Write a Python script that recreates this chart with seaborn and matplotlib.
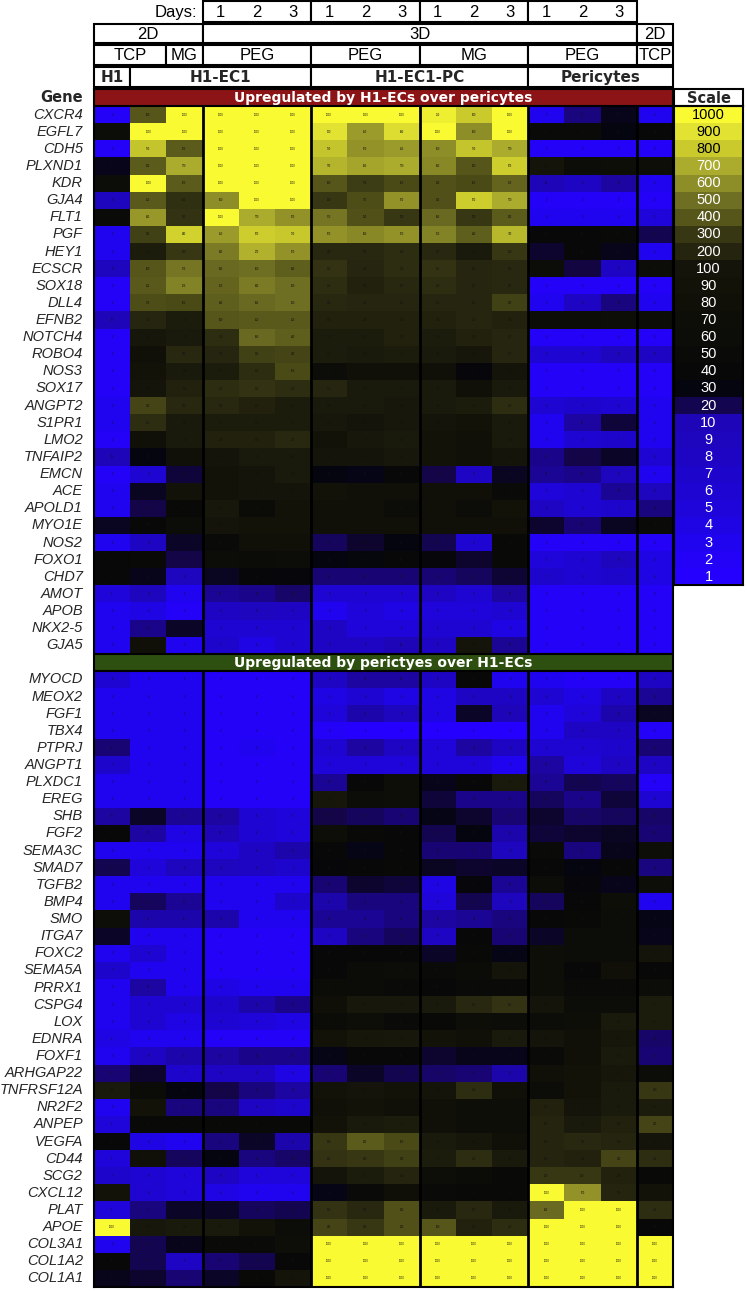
import numpy as np
import matplotlib
matplotlib.use('Agg')
import matplotlib.pyplot as plt
from matplotlib.colors import LinearSegmentedColormap
from matplotlib.patches import Rectangle
import seaborn as sns

# ---- data -------------------------------------------------------------
# column order: H1 2D TCP | H1-EC1 2D TCP, 2D MG, 3D PEG d1-3 |
# H1-EC1-PC 3D PEG d1-3, 3D MG d1-3 | Pericytes 3D PEG d1-3, 2D TCP
up_genes = ['CXCR4', 'EGFL7', 'CDH5', 'PLXND1', 'KDR', 'GJA4', 'FLT1', 'PGF',
            'HEY1', 'ECSCR', 'SOX18', 'DLL4', 'EFNB2', 'NOTCH4', 'ROBO4', 'NOS3',
            'SOX17', 'ANGPT2', 'S1PR1', 'LMO2', 'TNFAIP2', 'EMCN', 'ACE', 'APOLD1',
            'MYO1E', 'NOS2', 'FOXO1', 'CHD7', 'AMOT', 'APOB', 'NKX2-5', 'GJA5']
up_values = [
    [2, 400, 1000, 1000, 1000, 1000, 1000, 1000, 1000, 950, 800, 1000, 3, 15, 28, 3],
    [60, 1000, 1000, 1000, 1000, 1000, 900, 650, 880, 1000, 600, 1000, 50, 50, 30, 40],
    [2, 780, 420, 1000, 1000, 1000, 780, 620, 650, 600, 780, 700, 2, 2, 2, 2],
    [28, 430, 700, 1000, 1000, 1000, 730, 680, 700, 580, 400, 820, 100, 60, 70, 70],
    [60, 1000, 420, 1000, 1000, 1000, 400, 320, 360, 380, 360, 460, 10, 8, 12, 3],
    [9, 410, 260, 600, 1000, 1000, 300, 370, 620, 380, 820, 700, 2, 2, 2, 2],
    [50, 640, 280, 1000, 700, 620, 520, 380, 300, 480, 300, 430, 3, 3, 3, 5],
    [3, 330, 840, 650, 820, 790, 620, 580, 620, 560, 440, 740, 40, 40, 45, 20],
    [3, 150, 300, 540, 720, 620, 230, 230, 250, 230, 130, 300, 25, 40, 28, 3],
    [9, 400, 520, 480, 500, 440, 280, 210, 250, 280, 210, 230, 60, 22, 8, 60],
    [2, 410, 560, 460, 540, 500, 250, 180, 230, 250, 210, 230, 2, 2, 2, 2],
    [2, 370, 360, 440, 480, 500, 230, 210, 210, 210, 210, 330, 3, 8, 15, 3],
    [10, 210, 150, 400, 410, 410, 180, 180, 180, 180, 210, 180, 60, 60, 70, 60],
    [2, 110, 130, 250, 480, 440, 150, 150, 180, 150, 180, 210, 2, 2, 2, 2],
    [2, 80, 230, 210, 330, 340, 150, 130, 150, 130, 110, 210, 6, 6, 9, 8],
    [2, 90, 130, 150, 250, 360, 60, 80, 80, 80, 35, 100, 2, 2, 2, 2],
    [2, 100, 180, 250, 280, 250, 210, 130, 130, 130, 80, 130, 2, 2, 2, 2],
    [3, 340, 230, 230, 180, 150, 130, 130, 115, 130, 150, 250, 6, 7, 6, 3],
    [3, 250, 140, 150, 150, 150, 115, 100, 115, 100, 90, 130, 3, 12, 23, 3],
    [2, 80, 130, 180, 180, 230, 90, 115, 140, 90, 80, 130, 3, 6, 7, 3],
    [10, 30, 80, 100, 130, 130, 100, 100, 115, 90, 80, 100, 14, 21, 26, 6],
    [2, 6, 23, 90, 100, 130, 30, 29, 40, 21, 8, 27, 13, 14, 9, 3],
    [3, 27, 90, 90, 100, 100, 90, 80, 80, 80, 80, 50, 5, 6, 13, 9],
    [3, 21, 45, 115, 55, 90, 80, 80, 60, 80, 60, 90, 8, 6, 7, 15],
    [27, 40, 60, 100, 90, 90, 80, 80, 80, 80, 80, 80, 25, 16, 27, 50],
    [3, 8, 26, 50, 80, 80, 19, 25, 30, 20, 6, 45, 2, 2, 2, 2],
    [40, 45, 21, 60, 55, 60, 30, 32, 40, 35, 25, 45, 5, 6, 9, 4],
    [40, 28, 9, 27, 38, 35, 16, 16, 17, 16, 19, 24, 7, 6, 7, 4],
    [5, 9, 3, 13, 14, 18, 6, 6, 6, 8, 6, 12, 2, 2, 2, 2],
    [3, 4, 2, 8, 9, 8, 3, 5, 4, 5, 5, 6, 2, 2, 2, 2],
    [3, 14, 26, 6, 6, 6, 8, 5, 5, 6, 6, 4, 2, 2, 2, 2],
    [3, 80, 3, 7, 4, 6, 8, 8, 10, 8, 100, 13, 2, 2, 2, 2],
]

down_genes = ['MYOCD', 'MEOX2', 'FGF1', 'TBX4', 'PTPRJ', 'ANGPT1', 'PLXDC1', 'EREG',
              'SHB', 'FGF2', 'SEMA3C', 'SMAD7', 'TGFB2', 'BMP4', 'SMO', 'ITGA7',
              'FOXC2', 'SEMA5A', 'PRRX1', 'CSPG4', 'LOX', 'EDNRA', 'FOXF1', 'ARHGAP22',
              'TNFRSF12A', 'NR2F2', 'ANPEP', 'VEGFA', 'CD44', 'SCG2', 'CXCL12', 'PLAT',
              'APOE', 'COL3A1', 'COL1A2', 'COL1A1']
down_values = [
    [6, 3, 3, 2, 2, 2, 8, 12, 12, 8, 40, 3, 3, 2, 2, 8],
    [3, 3, 3, 2, 2, 2, 4, 6, 4, 4, 8, 8, 6, 4, 8, 13],
    [3, 3, 3, 2, 2, 2, 5, 11, 9, 4, 26, 10, 3, 5, 11, 27],
    [3, 3, 3, 2, 2, 2, 2, 1, 1, 1, 1, 1, 3, 8, 8, 2],
    [16, 3, 3, 2, 3, 2, 6, 12, 8, 5, 12, 8, 6, 6, 7, 17],
    [7, 3, 3, 2, 2, 2, 5, 5, 5, 5, 5, 3, 12, 5, 8, 8],
    [3, 3, 3, 2, 2, 2, 13, 40, 70, 28, 40, 130, 13, 20, 19, 2],
    [3, 3, 3, 2, 2, 2, 110, 60, 70, 23, 14, 14, 19, 14, 23, 6],
    [12, 26, 13, 12, 6, 5, 21, 19, 16, 29, 25, 17, 25, 18, 19, 18],
    [40, 12, 4, 10, 6, 5, 70, 45, 40, 20, 30, 11, 23, 25, 27, 16],
    [3, 3, 3, 5, 8, 11, 40, 29, 40, 16, 17, 9, 50, 15, 28, 70],
    [20, 5, 9, 9, 8, 7, 38, 42, 45, 27, 25, 26, 40, 30, 40, 15],
    [3, 3, 3, 3, 3, 3, 16, 25, 23, 4, 35, 13, 60, 35, 28, 70],
    [3, 19, 13, 3, 3, 7, 11, 15, 15, 5, 20, 9, 19, 40, 70, 3],
    [70, 11, 11, 11, 3, 3, 13, 13, 15, 12, 13, 15, 40, 45, 60, 29],
    [26, 3, 3, 2, 2, 2, 8, 15, 19, 8, 40, 16, 26, 60, 60, 28],
    [3, 6, 3, 2, 2, 2, 40, 40, 40, 26, 45, 29, 70, 60, 60, 100],
    [7, 3, 3, 2, 2, 2, 40, 55, 60, 50, 55, 100, 70, 40, 80, 40],
    [3, 12, 3, 4, 3, 3, 55, 55, 50, 40, 50, 50, 70, 50, 50, 60],
    [3, 6, 6, 7, 11, 14, 75, 120, 120, 140, 230, 280, 100, 60, 60, 150],
    [3, 6, 4, 6, 5, 4, 55, 70, 50, 45, 70, 60, 60, 70, 130, 150],
    [4, 3, 3, 2, 2, 2, 90, 110, 120, 90, 80, 130, 100, 80, 110, 18],
    [3, 8, 11, 12, 14, 14, 29, 40, 40, 25, 28, 28, 50, 80, 130, 17],
    [16, 25, 7, 8, 8, 4, 17, 26, 20, 18, 16, 11, 80, 90, 110, 60],
    [130, 55, 30, 21, 15, 12, 90, 100, 90, 100, 250, 80, 60, 90, 140, 300],
    [3, 90, 15, 15, 8, 7, 80, 90, 80, 80, 70, 70, 180, 100, 130, 150],
    [5, 45, 45, 45, 45, 45, 90, 130, 150, 80, 70, 70, 200, 130, 180, 340],
    [40, 4, 3, 15, 26, 11, 300, 430, 360, 130, 110, 80, 200, 230, 200, 100],
    [5, 80, 19, 30, 15, 18, 280, 300, 330, 150, 250, 130, 200, 180, 340, 250],
    [7, 6, 5, 8, 5, 5, 100, 150, 200, 70, 55, 45, 300, 300, 180, 45],
    [90, 6, 5, 4, 3, 3, 29, 50, 75, 50, 45, 45, 1000, 620, 200, 90],
    [5, 15, 26, 26, 19, 20, 280, 230, 380, 130, 230, 130, 480, 1000, 1000, 250],
    [1000, 115, 130, 140, 90, 60, 340, 300, 380, 400, 180, 250, 1000, 1000, 1000, 40],
    [3, 20, 28, 50, 50, 70, 1000, 1000, 1000, 1000, 1000, 1000, 1000, 1000, 1000, 1000],
    [40, 20, 8, 16, 20, 40, 1000, 1000, 1000, 1000, 1000, 1000, 1000, 1000, 1000, 1000],
    [28, 25, 17, 26, 45, 100, 1000, 1000, 1000, 1000, 1000, 1000, 1000, 1000, 1000, 1000],
]

# header groups (label, number of columns)
dim_groups = [('2D', 3), ('3D', 12), ('2D', 1)]
matrix_groups = [('TCP', 2), ('MG', 1), ('PEG', 3), ('PEG', 3), ('MG', 3), ('PEG', 3), ('TCP', 1)]
cell_groups = [('H1', 1), ('H1-EC1', 5), ('H1-EC1-PC', 6), ('Pericytes', 4)]
day_labels = ['1', '2', '3']
day_first_col = 3
day_blocks = 4

# colour scale
scale_ticks = [1, 2, 3, 4, 5, 6, 7, 8, 9, 10, 20, 30, 40, 50, 60, 70, 80, 90,
               100, 200, 300, 400, 500, 600, 700, 800, 900, 1000]
scale_colors = ['#2600ff', '#2402f8', '#2104ee', '#2005e4', '#2005da', '#1f05d2',
                '#1e05ca', '#1e05c4', '#1e05be', '#1e05b8', '#14054b', '#05050f',
                '#080808', '#0a0a08', '#0c0c08', '#0e0e08', '#101008', '#121208',
                '#14140a', '#23230f', '#373714', '#545419', '#6e6e23', '#8c8c28',
                '#aaaa2d', '#c8c82d', '#e1e132', '#fafa32']

banner_up = 'Upregulated by H1-ECs over pericytes'
banner_down = 'Upregulated by perictyes over H1-ECs'

# ---- build matrices ---------------------------------------------------
positions = np.arange(len(scale_ticks))


def to_pos(v):
    return np.interp(np.asarray(v, dtype=float), scale_ticks, positions)


ncol = len(up_values[0])
blank = [np.nan] * ncol
raw = np.array([blank] + up_values + [blank] + down_values, dtype=float)
pos = np.where(np.isnan(raw), np.nan, to_pos(np.nan_to_num(raw, nan=1)))
annot = np.where(np.isnan(raw), '', np.nan_to_num(raw).astype(int).astype(str))
row_labels = ['Gene'] + up_genes + [''] + down_genes
row_up0, row_down0 = 0, len(up_genes) + 1
nrow = len(row_labels)

cmap = LinearSegmentedColormap.from_list('scale', scale_colors)

# ---- figure -----------------------------------------------------------
sns.set_style('white')
plt.rcParams['font.family'] = ['Liberation Sans', 'DejaVu Sans']

W, H = 747, 1291
fig = plt.figure(figsize=(W / 100, H / 100), dpi=100)
top, bottom = 89, 1287
row_h = (bottom - top) / nrow
ax = fig.add_axes([94 / W, 1 - bottom / H, 579 / W, (bottom - top) / H])

sns.heatmap(pos, cmap=cmap, vmin=0, vmax=len(scale_ticks) - 1, cbar=False,
            annot=annot, fmt='', annot_kws={'fontsize': 1.8, 'color': '#111111'},
            xticklabels=False, yticklabels=row_labels, linewidths=0, ax=ax)
ax.tick_params(axis='y', length=0, pad=8)
for i, t in enumerate(ax.get_yticklabels()):
    t.set_rotation(0)
    if i == 0:
        t.set_fontfamily('DejaVu Sans')
        t.set_fontweight('bold')
        t.set_fontsize(10.5)
    else:
        t.set_fontstyle('italic')
        t.set_fontsize(10.5)

for s in ax.spines.values():
    s.set_visible(True)
    s.set_linewidth(1.5)
    s.set_color('black')

# banners
ax.add_patch(Rectangle((0, row_up0), ncol, 1, facecolor='#8c1416', edgecolor='none'))
ax.add_patch(Rectangle((0, row_down0), ncol, 1, facecolor='#2d5010', edgecolor='none'))
for r, txt in [(row_up0, banner_up), (row_down0, banner_down)]:
    ax.text(ncol / 2, r + 0.55, txt, ha='center', va='center', color='white',
            fontsize=10, fontweight='bold', family='DejaVu Sans')

# grid lines between groups
group_lines = [3, 6, 9, 12, 15]
ax.vlines(group_lines, row_up0 + 1, row_down0, color='black', lw=2)
ax.vlines(group_lines, row_down0 + 1, nrow, color='black', lw=2)
ax.hlines([row_up0 + 1, row_down0, row_down0 + 1], 0, ncol, color='black', lw=1.5)


# header boxes above the heatmap (row units, negative = above)
def to_row(px):
    return (px - top) / row_h


def header_row(groups, y0, y1, start=0, **kw):
    x = start
    for label, n in groups:
        ax.add_patch(Rectangle((x, y0), n, y1 - y0, facecolor='white',
                               edgecolor='black', lw=1.5, clip_on=False))
        if label:
            ax.text(x + n / 2, (y0 + y1) / 2 + 0.05, label, ha='center',
                    va='center', clip_on=False, **kw)
        x += n


hdr_kw = {'fontsize': 12, 'color': 'black'}
bold_kw = {'fontsize': 11, 'fontweight': 'bold', 'family': 'DejaVu Sans'}

# days row
y0, y1 = to_row(1), to_row(22)
header_row([('', 3)] * day_blocks, y0, y1, start=day_first_col)
for b in range(day_blocks):
    for j, d in enumerate(day_labels):
        ax.text(day_first_col + 3 * b + j + 0.5, (y0 + y1) / 2 + 0.05, d,
                ha='center', va='center', clip_on=False, **hdr_kw)
ax.text(day_first_col - 0.15, (y0 + y1) / 2 + 0.05, 'Days:', ha='right',
        va='center', clip_on=False, **hdr_kw)

header_row(dim_groups, to_row(24), to_row(43), **hdr_kw)
header_row(matrix_groups, to_row(45), to_row(65), **hdr_kw)
header_row(cell_groups, to_row(67), to_row(87), **bold_kw)

# ---- scale column -----------------------------------------------------
scale_desc = scale_ticks[::-1]
s_top = top + row_h
s_bot = s_top + len(scale_desc) * row_h
ax_s = fig.add_axes([674 / W, 1 - s_bot / H, 69 / W, (s_bot - s_top) / H])
sns.heatmap(to_pos(scale_desc)[:, None], cmap=cmap, vmin=0,
            vmax=len(scale_ticks) - 1, cbar=False,
            annot=np.array([[str(v)] for v in scale_desc]), fmt='',
            annot_kws={'fontsize': 10.5}, xticklabels=False, yticklabels=False,
            linewidths=0, ax=ax_s)
for t, v in zip(ax_s.texts, scale_desc):
    t.set_color('black' if v >= 800 else 'white')
for s in ax_s.spines.values():
    s.set_visible(True)
    s.set_linewidth(1.5)
    s.set_color('black')
ax_s.add_patch(Rectangle((0, -1), 1, 1, facecolor='white', edgecolor='black',
                         lw=1.5, clip_on=False))
ax_s.text(0.5, -0.45, 'Scale', ha='center', va='center', clip_on=False,
          fontsize=10.5, fontweight='bold', family='DejaVu Sans')

fig.savefig('out.png', dpi=100)
